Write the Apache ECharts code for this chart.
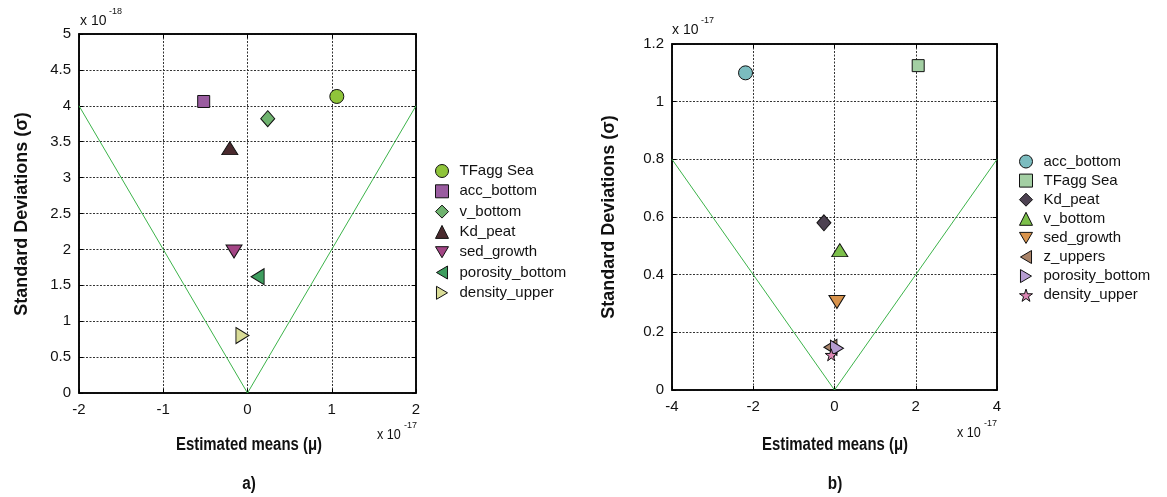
<!DOCTYPE html>
<html>
<head>
<meta charset="utf-8">
<script src="https://cdn.jsdelivr.net/npm/echarts@6/dist/echarts.min.js"></script>
<style>
  html, body { margin: 0; padding: 0; background: #fff; }
  #chart { width: 1167px; height: 497px; }
</style>
</head>
<body>
<div id="chart"></div>
<script>
// ---- Panel a): means in units of 1e-17, standard deviations in units of 1e-18
const namesA = ['TFagg Sea', 'acc_bottom', 'v_bottom', 'Kd_peat', 'sed_growth', 'porosity_bottom', 'density_upper'];
const meanA = [1.06, -0.52, 0.24, -0.21, -0.16, 0.12, -0.06];
const sdA = [4.13, 4.06, 3.82, 3.41, 1.97, 1.62, 0.80];
const boundMeanA = [-2, 0, 2];
const boundSdA = [4, 0, 4];

// ---- Panel b): means in units of 1e-17, standard deviations in units of 1e-17
const namesB = ['acc_bottom', 'TFagg Sea', 'Kd_peat', 'v_bottom', 'sed_growth', 'z_uppers', 'porosity_bottom', 'density_upper'];
const meanB = [-2.19, 2.06, -0.26, 0.13, 0.06, -0.10, 0.06, -0.08];
const sdB = [1.10, 1.125, 0.58, 0.485, 0.305, 0.148, 0.145, 0.122];
const boundMeanB = [-4, 0, 4];
const boundSdB = [0.8, 0, 0.8];

// ---- Marker styles
const SYM = {
  circle: 'circle',
  square: 'rect',
  diamond: 'diamond',
  up: 'triangle',
  down: 'path://M0,0L20,0L10,17Z',
  left: 'path://M0,10L17,0L17,20Z',
  right: 'path://M0,0L17,10L0,20Z',
  star: 'path://M50,0L61,35L98,35L68,57L79,91L50,70L21,91L32,57L2,35L39,35Z'
};
const SIZE = {
  circle: 14, square: 12, diamond: [14, 16], up: [16, 13],
  down: [16, 13], left: [13, 16], right: [13, 16], star: 12
};
const symbolsA = ['circle', 'square', 'diamond', 'up', 'down', 'left', 'right'];
const colorsA = ['#8fc43a', '#9a5ca0', '#6fb36f', '#4a2a2e', '#a34585', '#3e9d5e', '#d9dc97'];
const symbolsB = ['circle', 'square', 'diamond', 'up', 'down', 'left', 'right', 'star'];
const colorsB = ['#7bbcbf', '#a3cfa3', '#4d4252', '#7cbf4a', '#d8934c', '#a98368', '#b59cd0', '#dc86b4'];

const FONT = '"Liberation Sans", Arial, Helvetica, sans-serif';
const LINE_GREEN = '#3cb34a';

// Series names carry a panel prefix so the two legends stay independent.
function pointSeries(prefix, names, means, sds, symbols, colors, axisIdx) {
  return names.map((n, i) => ({
    name: prefix + n,
    type: 'scatter',
    xAxisIndex: axisIdx,
    yAxisIndex: axisIdx,
    data: [[means[i], sds[i]]],
    symbol: SYM[symbols[i]],
    symbolSize: SIZE[symbols[i]],
    itemStyle: { color: colors[i], borderColor: '#111', borderWidth: 1, opacity: 1 },
    z: 5,
    silent: true
  }));
}

function boundSeries(xs, ys, axisIdx) {
  return {
    type: 'line',
    xAxisIndex: axisIdx,
    yAxisIndex: axisIdx,
    data: xs.map((x, i) => [x, ys[i]]),
    symbol: 'none',
    lineStyle: { color: LINE_GREEN, width: 1 },
    z: 3,
    silent: true
  };
}

function mainX(grid, min, max, interval) {
  return {
    type: 'value', gridIndex: grid, min, max, interval,
    axisLine: { show: true, onZero: false, lineStyle: { color: '#000', width: 1.5 } },
    axisTick: { show: true, inside: true, length: 4, lineStyle: { color: '#000' } },
    axisLabel: { color: '#111', fontSize: 15, fontFamily: FONT, margin: 9 },
    splitLine: { show: true, lineStyle: { color: '#333', type: [2, 1.5], width: 1 } }
  };
}
function mainY(grid, min, max, interval) {
  return {
    type: 'value', gridIndex: grid, min, max, interval,
    axisLine: { show: true, onZero: false, lineStyle: { color: '#000', width: 1.5 } },
    axisTick: { show: true, inside: true, length: 4, lineStyle: { color: '#000' } },
    axisLabel: { color: '#111', fontSize: 15, fontFamily: FONT, margin: 8 },
    splitLine: { show: true, lineStyle: { color: '#333', type: [2, 1.5], width: 1 } }
  };
}
function mirrorAxis(grid, min, max, interval, position) {
  return {
    type: 'value', gridIndex: grid, min, max, interval, position,
    axisLine: { show: true, onZero: false, lineStyle: { color: '#000', width: 1.5 } },
    axisTick: { show: true, inside: true, length: 4, lineStyle: { color: '#000' } },
    axisLabel: { show: false },
    splitLine: { show: false }
  };
}

function legendFor(prefix, names, left, top, gap) {
  return {
    orient: 'vertical',
    left, top,
    padding: 0,
    itemWidth: 13,
    itemHeight: 13,
    itemGap: gap,
    selectedMode: false,
    itemStyle: { borderColor: '#111', borderWidth: 1 },
    data: names.map(n => prefix + n),
    formatter: n => n.slice(prefix.length),
    textStyle: { fontSize: 15, fontFamily: FONT, color: '#111', lineHeight: 13, padding: [0, 0, 0, 6] }
  };
}

function txt(text, x, y, opts) {
  return {
    type: 'text', x, y,
    rotation: opts.rotation || 0,
    scaleX: opts.scaleX || 1,
    style: {
      text,
      font: opts.font,
      fill: '#111',
      textAlign: opts.align || 'center',
      textVerticalAlign: 'middle'
    }
  };
}

const TITLE_FONT = 'bold 18px ' + FONT;
const EXP_FONT = '14px ' + FONT;
const SUP_FONT = '9px ' + FONT;

const option = {
  animation: false,
  backgroundColor: '#fff',
  grid: [
    { left: 79, top: 34, width: 337, height: 359, show: true, borderColor: '#000', borderWidth: 1.5, backgroundColor: 'transparent' },
    { left: 672, top: 44, width: 325, height: 346, show: true, borderColor: '#000', borderWidth: 1.5, backgroundColor: 'transparent' }
  ],
  xAxis: [
    mainX(0, -2, 2, 1),
    mainX(1, -4, 4, 2),
    mirrorAxis(0, -2, 2, 1, 'top'),
    mirrorAxis(1, -4, 4, 2, 'top')
  ],
  yAxis: [
    mainY(0, 0, 5, 0.5),
    mainY(1, 0, 1.2, 0.2),
    mirrorAxis(0, 0, 5, 0.5, 'right'),
    mirrorAxis(1, 0, 1.2, 0.2, 'right')
  ],
  legend: [
    legendFor('a:', namesA, 435, 163.5, 5.3),
    legendFor('b:', namesB, 1019, 154, 4.1)
  ],
  series: [
    boundSeries(boundMeanA, boundSdA, 0),
    boundSeries(boundMeanB, boundSdB, 1),
    ...pointSeries('a:', namesA, meanA, sdA, symbolsA, colorsA, 0),
    ...pointSeries('b:', namesB, meanB, sdB, symbolsB, colorsB, 1)
  ],
  graphic: [
    // axis titles
    txt('Standard Deviations (σ)', 22, 214, { font: TITLE_FONT, rotation: Math.PI / 2 }),
    txt('Standard Deviations (σ)', 609, 217, { font: TITLE_FONT, rotation: Math.PI / 2 }),
    txt('Estimated means (μ)', 249, 445, { font: TITLE_FONT, scaleX: 0.83 }),
    txt('Estimated means (μ)', 835, 445, { font: TITLE_FONT, scaleX: 0.83 }),
    // panel labels
    txt('a)', 249, 484, { font: TITLE_FONT, scaleX: 0.85 }),
    txt('b)', 835, 484, { font: TITLE_FONT, scaleX: 0.85 }),
    // axis exponent markers
    txt('x 10', 80, 21, { font: EXP_FONT, align: 'left' }),
    txt('-18', 109, 12, { font: SUP_FONT, align: 'left' }),
    txt('x 10', 672, 30, { font: EXP_FONT, align: 'left' }),
    txt('-17', 701, 21, { font: SUP_FONT, align: 'left' }),
    txt('x 10', 377, 435, { font: EXP_FONT, align: 'left', scaleX: 0.9 }),
    txt('-17', 404, 426, { font: SUP_FONT, align: 'left' }),
    txt('x 10', 957, 433, { font: EXP_FONT, align: 'left', scaleX: 0.9 }),
    txt('-17', 984, 424, { font: SUP_FONT, align: 'left' })
  ]
};

const chart = echarts.init(document.getElementById('chart'), null, { renderer: 'canvas' });
chart.setOption(option);
</script>
</body>
</html>
